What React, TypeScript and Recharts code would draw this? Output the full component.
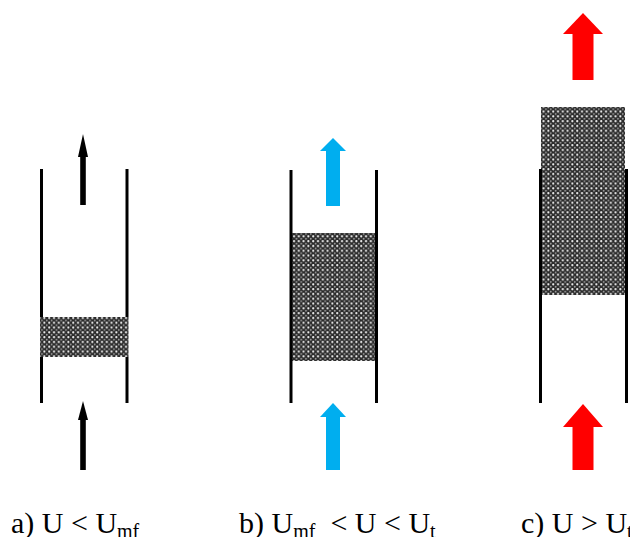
import { Area, ComposedChart, Line, ReferenceDot, XAxis, YAxis } from "recharts";

// everything: x to the right, y downwards
const WIDTH = 630;
const HEIGHT = 537;

// tube walls: x, top, bottom (tube a is hidden where its bed sits)
const walls = [
  [41.5, 169, 317],
  [41.5, 357, 403],
  [127, 169, 317],
  [127, 357, 403],
  [291, 170, 403],
  [376.5, 170, 403],
  [540.5, 169, 403],
  [626.5, 169, 403],
];

// particle beds: left, right, top, bottom
const beds = [
  [40, 128.5, 317, 357],
  [292, 376, 233, 361],
  [541, 625, 107, 295],
];

// arrows: center, shaft half width, head half width, tip, head base, shaft end, colour
const arrows: [number, number, number, number, number, number, string][] = [
  [83, 2.8, 5, 134, 157, 205, "#000000"],
  [83, 2.8, 5, 401, 420, 470, "#000000"],
  [333, 7, 13, 138, 151, 206, "#00aeef"],
  [333, 7, 13, 403, 417, 470, "#00aeef"],
  [583, 10.5, 20, 13, 34, 80, "#ff0000"],
  [583, 10.5, 20, 404, 427, 470, "#ff0000"],
];

// captions: x, baseline, pieces of text (sub = subscript)
const captions = [
  {
    x: 11,
    y: 533,
    parts: [
      { t: "a) U < U" },
      { t: "mf", sub: true },
    ],
  },
  {
    x: 239,
    y: 533,
    parts: [
      { t: "b) U" },
      { t: "mf", sub: true },
      { t: "  < U < U" },
      { t: "t", sub: true },
    ],
  },
  {
    x: 521,
    y: 533,
    parts: [
      { t: "c) U > U" },
      { t: "t", sub: true },
    ],
  },
];

const serif = "'Liberation Serif', 'Times New Roman', serif";

function Caption({ viewBox, parts }: any) {
  return (
    <text
      x={viewBox.x}
      y={viewBox.y}
      style={{ fontFamily: serif, fontSize: 30, whiteSpace: "pre" }}
      fill="#000"
    >
      {parts.map((p: any, i: number) => {
        const prevSub = i > 0 && parts[i - 1].sub;
        return (
          <tspan
            key={i}
            style={{ fontFamily: serif, fontSize: p.sub ? 20 : 30 }}
            dy={p.sub ? 5 : prevSub ? -5 : 0}
          >
            {p.t}
          </tspan>
        );
      })}
    </text>
  );
}

export default function App() {
  return (
    <div style={{ width: WIDTH, height: HEIGHT, background: "#fff" }}>
      <style>{`body { margin: 0; }`}</style>
      <ComposedChart width={WIDTH} height={HEIGHT} margin={{ top: 0, right: 0, bottom: 0, left: 0 }}>
        <defs>
          <pattern id="bedDots" width={4.8} height={4.8} patternUnits="userSpaceOnUse">
            <rect width={4.8} height={4.8} fill="#2a2a2a" />
            <circle cx={1.2} cy={1.2} r={1.1} fill="#f4f4f4" />
            <circle cx={3.6} cy={3.6} r={0.9} fill="#a8a8a8" />
          </pattern>
        </defs>
        <XAxis hide type="number" dataKey="x" domain={[0, WIDTH]} allowDataOverflow />
        <YAxis hide type="number" domain={[0, HEIGHT]} reversed allowDataOverflow />

        {beds.map(([left, right, top, bottom], i) => (
          <Area
            key={`bed-${i}`}
            data={[
              { x: left, r: [top, bottom] },
              { x: right, r: [top, bottom] },
            ]}
            dataKey="r"
            type="linear"
            stroke="none"
            fill="url(#bedDots)"
            fillOpacity={1}
            dot={false}
            activeDot={false}
            isAnimationActive={false}
          />
        ))}

        {walls.map(([x, top, bottom], i) => (
          <Line
            key={`wall-${i}`}
            data={[
              { x, y: top },
              { x, y: bottom },
            ]}
            dataKey="y"
            type="linear"
            stroke="#000"
            strokeWidth={3}
            dot={false}
            activeDot={false}
            isAnimationActive={false}
          />
        ))}

        {arrows.map(([cx, shaft, , , base, end, color], i) => (
          <Area
            key={`shaft-${i}`}
            data={[
              { x: cx - shaft, r: [base, end] },
              { x: cx + shaft, r: [base, end] },
            ]}
            dataKey="r"
            type="linear"
            stroke="none"
            fill={color}
            fillOpacity={1}
            dot={false}
            activeDot={false}
            isAnimationActive={false}
          />
        ))}
        {arrows.map(([cx, , head, tip, base, , color], i) => (
          <Area
            key={`head-${i}`}
            data={[
              { x: cx - head, r: [base, base] },
              { x: cx, r: [tip, base] },
              { x: cx + head, r: [base, base] },
            ]}
            dataKey="r"
            type="linear"
            stroke="none"
            fill={color}
            fillOpacity={1}
            dot={false}
            activeDot={false}
            isAnimationActive={false}
          />
        ))}

        {captions.map((c, i) => (
          <ReferenceDot
            key={`caption-${i}`}
            x={c.x}
            y={c.y}
            r={0}
            fill="none"
            stroke="none"
            ifOverflow="visible"
            label={{ content: (props: any) => <Caption {...props} parts={c.parts} /> }}
          />
        ))}
      </ComposedChart>
    </div>
  );
}
